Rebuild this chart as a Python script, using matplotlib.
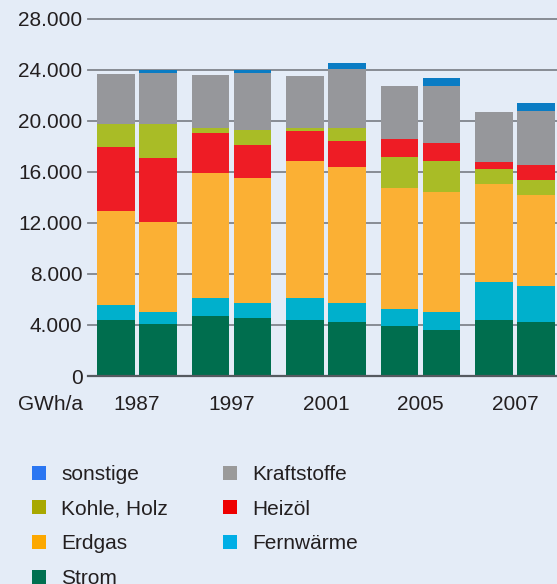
import numpy as np
import matplotlib.pyplot as plt
from matplotlib.lines import Line2D
from matplotlib.ticker import FuncFormatter

plt.rcParams['font.family'] = ['Liberation Sans', 'DejaVu Sans']

years = ["1987", "1997", "2001", "2005", "2007"]

# two bars per year (left, right), GWh/a
strom       = [4390, 4080, 4700, 4550, 4390, 4230, 3920, 3610, 4390, 4230]
fernwaerme  = [1170, 940, 1410, 1170, 1720, 1490, 1330, 1410, 2980, 2820]
erdgas      = [7390, 7050, 9800, 9800, 10740, 10660, 9480, 9420, 7680, 7130]
heizoel     = [5020, 5040, 3130, 2580, 2350, 2040, 1410, 1410, 550, 1180]
kohle_holz  = [1800, 2660, 420, 1200, 260, 1020, 2430, 2410, 1170, 1180]
kraftstoffe = [3900, 3980, 4130, 4450, 4050, 4620, 4160, 4470, 3920, 4230]
sonstige    = [0, 250, 0, 250, 0, 470, 0, 620, 0, 620]

series = {
    "Strom": strom,
    "Fernwärme": fernwaerme,
    "Erdgas": erdgas,
    "Heizöl": heizoel,
    "Kohle, Holz": kohle_holz,
    "Kraftstoffe": kraftstoffe,
    "sonstige": sonstige,
}

bar_colors = {
    "Strom": "#006e4e",
    "Fernwärme": "#00b0cc",
    "Erdgas": "#fbb034",
    "Heizöl": "#ee1c25",
    "Kohle, Holz": "#a9bc26",
    "Kraftstoffe": "#96979b",
    "sonstige": "#0a7cc4",
}
legend_colors = {
    "sonstige": "#2a76f2",
    "Kohle, Holz": "#a8a800",
    "Erdgas": "#fca800",
    "Strom": "#007050",
    "Kraftstoffe": "#9a9a9a",
    "Heizöl": "#ee0000",
    "Fernwärme": "#00aee6",
}

# stacking order changes for the last two years
order_early = ["Strom", "Fernwärme", "Erdgas", "Heizöl", "Kohle, Holz", "Kraftstoffe", "sonstige"]
order_late = ["Strom", "Fernwärme", "Erdgas", "Kohle, Holz", "Heizöl", "Kraftstoffe", "sonstige"]

bg = "#e4ecf7"
fig = plt.figure(figsize=(5.57, 5.84), dpi=100, facecolor=bg)
ax = fig.add_axes([88 / 557, 1 - 376 / 584, 1 - 88 / 557, (376 - 18.7) / 584])
ax.set_facecolor(bg)

width = 0.40
offset = 0.222
for i in range(len(years)):
    order = order_early if i < 3 else order_late
    for side, dx in enumerate((-offset, offset)):
        k = 2 * i + side
        bottom = 0
        for name in order:
            v = series[name][k]
            if v > 0:
                ax.bar(i + dx, v, width, bottom=bottom, color=bar_colors[name],
                       linewidth=0, zorder=3)
            bottom += v

ax.set_ylim(0, 28000)
ax.set_xlim(-0.5185, 4.444)
ax.set_yticks(np.arange(0, 28001, 4000))
ax.yaxis.set_major_formatter(FuncFormatter(lambda v, p: f"{int(v):,}".replace(",", ".")))
ax.set_xticks(range(len(years)))
ax.set_xticklabels(years)
ax.tick_params(axis="both", length=0, labelsize=15, colors="#231f20")
ax.tick_params(axis="y", pad=4)
ax.tick_params(axis="x", pad=14)
for y in np.arange(4000, 28001, 4000):
    ax.axhline(y, color="#80848c", linewidth=1.3, zorder=1, clip_on=False)
ax.axhline(0, color="#555a60", linewidth=1.6, zorder=4, clip_on=False)
for s in ax.spines.values():
    s.set_visible(False)

fig.text(18 / 557, 1 - 405 / 584, "GWh/a", fontsize=15, color="#231f20", va="center", ha="left")

legend_order = ["sonstige", "Kohle, Holz", "Erdgas", "Strom", "Kraftstoffe", "Heizöl", "Fernwärme"]
handles = [Line2D([], [], linestyle="none", marker="s", markersize=10.5,
                  markerfacecolor=legend_colors[n], markeredgewidth=0) for n in legend_order]
fig.legend(handles, legend_order, ncol=2, frameon=False, fontsize=15,
           loc="upper left", bbox_to_anchor=(0.0515, 1 - 465 / 584),
           handlelength=1.0, handletextpad=0.55, labelspacing=0.75,
           columnspacing=2.5, borderaxespad=0, borderpad=0, labelcolor="#231f20")

fig.savefig("out.png", dpi=100, facecolor=bg)
